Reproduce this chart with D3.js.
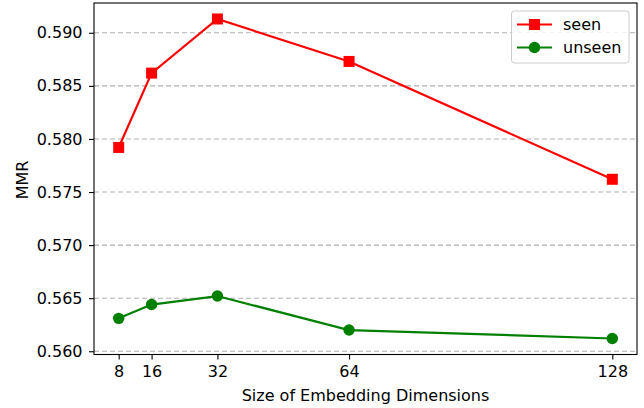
<!DOCTYPE html>
<html><head><meta charset="utf-8">
<script src="https://cdn.jsdelivr.net/npm/d3@7"></script>
<style>body{margin:0;background:#fff}svg{display:block}text{font-family:"DejaVu Sans",sans-serif}</style>
</head><body>
<svg id="c" width="644" height="408"></svg>
<script>
const dims = [8, 16, 32, 64, 128];
const seen = [0.5792, 0.5862, 0.5913, 0.5873, 0.5762];
const unseen = [0.5631, 0.5644, 0.5652, 0.5620, 0.5612];
const yTicks = [0.560, 0.565, 0.570, 0.575, 0.580, 0.585, 0.590];
const seriesNames = ["seen", "unseen"];

const svg = d3.select("#c");
const L = 94, R = 637, T = 3, B = 354.5;
const FS = 16;
const xmin = d3.min(dims), xmax = d3.max(dims), xm = (xmax - xmin) * 0.05;
const all = seen.concat(unseen);
const ymin = d3.min(all), ymax = d3.max(all), ym = (ymax - ymin) * 0.05;
const x = d3.scaleLinear().domain([xmin - xm, xmax + xm]).range([L, R]);
const y = d3.scaleLinear().domain([ymin - ym, ymax + ym]).range([B, T]);

// grid
svg.append("g").selectAll("line").data(yTicks).join("line")
  .attr("x1", L).attr("x2", R).attr("y1", d => y(d)).attr("y2", d => y(d))
  .attr("stroke", "#b0b0b0").attr("stroke-width", 1.1).attr("stroke-dasharray", "5,3");

// axes
const xa = svg.append("g").attr("transform", `translate(0,${B})`)
  .call(d3.axisBottom(x).tickValues(dims).tickFormat(d3.format("d")).tickSize(5).tickPadding(6.5));
const ya = svg.append("g").attr("transform", `translate(${L},0)`)
  .call(d3.axisLeft(y).tickValues(yTicks).tickFormat(d3.format(".3f")).tickSize(5).tickPadding(6.5));
[xa, ya].forEach(a => {
  a.select(".domain").remove();
  a.selectAll("line").attr("stroke", "#000").attr("stroke-width", 1.1);
  a.selectAll("text").attr("font-size", FS).attr("fill", "#000").attr("font-family", "DejaVu Sans");
});
svg.append("rect").attr("x", L).attr("y", T).attr("width", R - L).attr("height", B - T)
  .attr("fill", "none").attr("stroke", "#000").attr("stroke-width", 1.1);

const line = d3.line().x((d, i) => x(dims[i])).y(d => y(d));
const cols = ["#ff0000", "#008000"];
[seen, unseen].forEach((s, k) => {
  svg.append("path").attr("d", line(s)).attr("fill", "none").attr("stroke", cols[k]).attr("stroke-width", 2.2);
  const g = svg.append("g");
  if (k === 0) {
    g.selectAll("rect").data(s).join("rect")
      .attr("x", (d, i) => x(dims[i]) - 5.5).attr("y", d => y(d) - 5.5)
      .attr("width", 11).attr("height", 11).attr("fill", cols[k]);
  } else {
    g.selectAll("circle").data(s).join("circle")
      .attr("cx", (d, i) => x(dims[i])).attr("cy", d => y(d)).attr("r", 5.7).attr("fill", cols[k]);
  }
});

// labels
svg.append("text").attr("x", (L + R) / 2).attr("y", 401).attr("text-anchor", "middle")
  .attr("font-size", FS).text("Size of Embedding Dimensions");
svg.append("text").attr("transform", "translate(28,180) rotate(-90)").attr("text-anchor", "middle")
  .attr("font-size", FS).text("MMR");

// legend
const lg = svg.append("g");
lg.append("rect").attr("x", 511.5).attr("y", 11).attr("width", 117.5).attr("height", 52)
  .attr("rx", 3).attr("fill", "#fff").attr("fill-opacity", 0.8).attr("stroke", "#cccccc");
seriesNames.forEach((n, k) => {
  const yy = 24.5 + k * 23;
  lg.append("line").attr("x1", 517).attr("x2", 552).attr("y1", yy).attr("y2", yy)
    .attr("stroke", cols[k]).attr("stroke-width", 2.2);
  if (k === 0) lg.append("rect").attr("x", 529).attr("y", yy - 5.5).attr("width", 11).attr("height", 11).attr("fill", cols[k]);
  else lg.append("circle").attr("cx", 534.5).attr("cy", yy).attr("r", 5.7).attr("fill", cols[k]);
  lg.append("text").attr("x", 563).attr("y", yy + 5.5).attr("font-size", FS).text(n);
});
</script>
</body></html>
